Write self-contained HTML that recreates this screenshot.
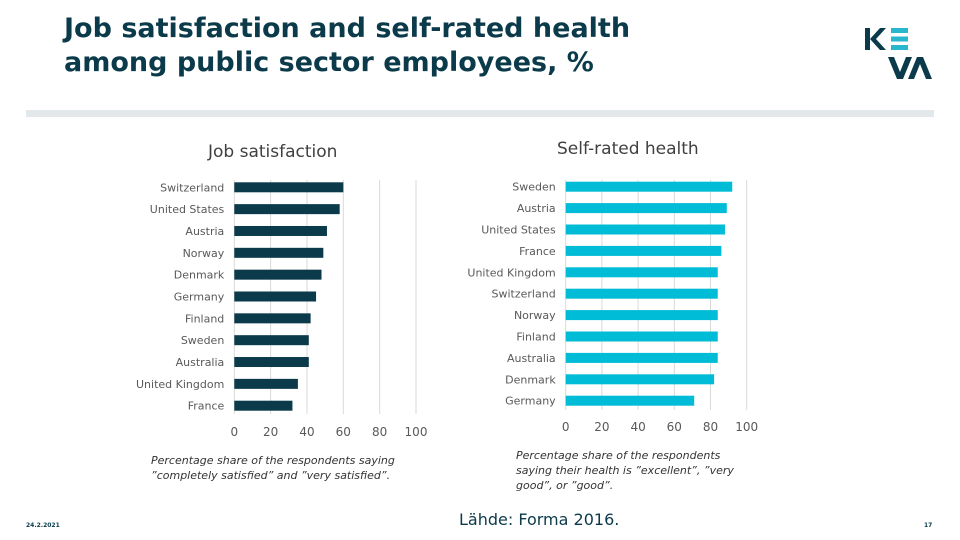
<!DOCTYPE html>
<html><head><meta charset="utf-8">
<style>
body{margin:0;width:960px;height:540px;background:#fff;font-family:"DejaVu Sans",sans-serif;position:relative;overflow:hidden}
.t{position:absolute;white-space:nowrap}
</style></head>
<body>
<div class="t" style="left:64px;top:12px;font-size:27px;font-weight:bold;color:#0b3a4a;line-height:34px;font-family:'DejaVu Sans',sans-serif">Job satisfaction and self-rated health<br>among public sector employees, %</div>
<svg style="position:absolute;left:860px;top:24px" width="80" height="60">
<rect x="5" y="4" width="5" height="22" fill="#0b3a4a"/>
<polygon points="10,15 20,4 26,4 16,15 26,26 20,26" fill="#0b3a4a"/>
<rect x="31" y="4" width="17" height="5" fill="#29b7d0"/><rect x="31" y="12.5" width="17" height="5" fill="#29b7d0"/><rect x="31" y="21" width="17" height="5" fill="#29b7d0"/>
<polygon points="28,33 34,33 40,48 46,33 52,33 43,55 37,55" fill="#0b3a4a"/>
<polygon points="48,55 57,33 63,33 72,55 66,55 60,40 54,55" fill="#0b3a4a"/>
</svg>
<div style="position:absolute;left:26px;top:110px;width:908px;height:7px;background:#e3e8ea"></div>
<div class="t" style="left:208px;top:142px;font-size:17px;color:#404040">Job satisfaction</div>
<div class="t" style="left:557px;top:139px;font-size:17px;color:#404040">Self-rated health</div>
<svg id="c" width="960" height="540" style="position:absolute;left:0;top:0"></svg>
<div class="t" style="left:151px;top:453px;font-size:11px;font-style:italic;color:#333;line-height:15px">Percentage share of the respondents saying<br>”completely satisfied” and ”very satisfied”.</div>
<div class="t" style="left:516px;top:448px;font-size:11px;font-style:italic;color:#333;line-height:15px">Percentage share of the respondents<br>saying their health is ”excellent”, ”very<br>good”, or ”good”.</div>
<div class="t" style="left:459px;top:510px;font-size:16px;color:#0b3a4a">Lähde: Forma 2016.</div>
<div class="t" style="left:26px;top:522px;font-size:6px;color:#0b3a4a;font-weight:bold">24.2.2021</div>
<div class="t" style="left:924px;top:522px;font-size:6px;color:#0b3a4a;font-weight:bold">17</div>
<script>
const leftCats=["Switzerland","United States","Austria","Norway","Denmark","Germany","Finland","Sweden","Australia","United Kingdom","France"];
const leftVals=[60,58,51,49,48,45,42,41,41,35,32];
const rightCats=["Sweden","Austria","United States","France","United Kingdom","Switzerland","Norway","Finland","Australia","Denmark","Germany"];
const rightVals=[92,89,88,86,84,84,84,84,84,82,71];
const ticks=[0,20,40,60,80,100];
const svg=document.getElementById('c');
const NS='http://www.w3.org/2000/svg';
function mk(t,a){const e=document.createElementNS(NS,t);for(const k in a)e.setAttribute(k,a[k]);svg.appendChild(e);return e;}
function chart(cats,vals,x0,x1,y0,step,gTop,gBot,tickY,color,pfx){
  const sx=v=>x0+(x1-x0)*v/100;
  ticks.forEach(t=>{
    const l=mk('line',{x1:sx(t),x2:sx(t),y1:gTop,y2:gBot,stroke:'#d9d9d9','stroke-width':1});
    
    
    const tx=mk('text',{x:sx(t),y:tickY,'text-anchor':'middle','font-size':12,fill:'#595959','font-family':'DejaVu Sans,sans-serif'});
    tx.textContent=t;
    
    
  });
  cats.forEach((c,i)=>{
    const cy=y0+step*i;
    const r=mk('rect',{x:sx(0),y:cy-5,width:sx(vals[i])-sx(0),height:10,fill:color});
    
    
    const tx=mk('text',{x:sx(0)-10,y:cy+4,'text-anchor':'end','font-size':11,fill:'#595959','font-family':'DejaVu Sans,sans-serif'});
    tx.textContent=c;
    
    
  });
}
chart(leftCats,leftVals,234.3,416,187.3,21.84,180,414,436,'#0b3a4a','left');
chart(rightCats,rightVals,565.7,746.7,186.7,21.4,180,410,431,'#00bcd6','right');
</script>
</body></html>
